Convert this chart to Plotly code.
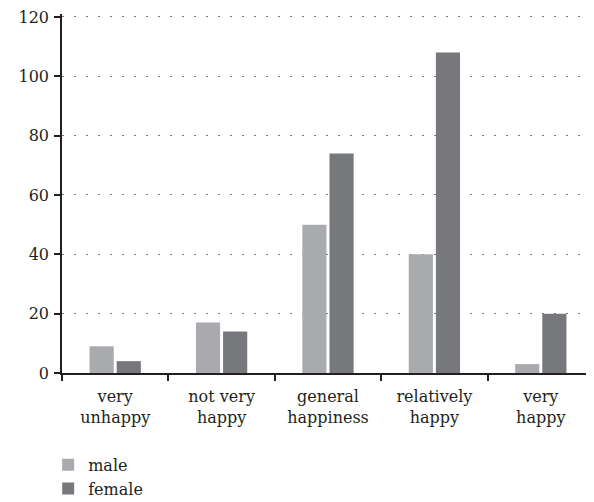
import plotly.graph_objects as go

categories = ["very<br>unhappy", "not very<br>happy", "general<br>happiness", "relatively<br>happy", "very<br>happy"]
male = [9, 17, 50, 40, 3]
female = [4, 14, 74, 108, 20]
y_ticks = [0, 20, 40, 60, 80, 100, 120]

fig = go.Figure()
fig.add_trace(go.Bar(name="male", x=categories, y=male, marker=dict(color="#a9aaad", line=dict(width=0))))
fig.add_trace(go.Bar(name="female", x=categories, y=female, marker=dict(color="#77787c", line=dict(width=0))))

axis_color = "#231f20"
serif = "DejaVu Serif, Liberation Serif, serif"
fig.update_layout(
    width=586, height=494,
    margin=dict(l=54, r=0, t=6, b=129, autoexpand=False),
    paper_bgcolor="white", plot_bgcolor="white",
    font=dict(family=serif, size=16, color=axis_color),
    barmode="group", bargap=0.49, bargroupgap=0.11,
    showlegend=True,
    legend=dict(x=-0.026, y=-0.2085, xanchor="left", yanchor="top", orientation="v",
                font=dict(family=serif, size=16),
                tracegroupgap=0, itemsizing="constant"),
    xaxis=dict(showline=True, linecolor=axis_color, linewidth=1.5, ticks="outside",
               tickson="boundaries", ticklen=6, tickcolor=axis_color, tickwidth=1.5,
               showgrid=False, zeroline=False, automargin=False, ticklabelstandoff=8,
               ticklabeloverflow="allow",
               tickfont=dict(family=serif, size=16)),
    yaxis=dict(range=[0, 121], tickvals=y_ticks, showline=True, linecolor=axis_color, linewidth=1.5,
               ticks="outside", ticklen=6, tickcolor=axis_color, tickwidth=1.5,
               showgrid=True, gridcolor="#777777", gridwidth=1, griddash="2px,10px",
               zeroline=False, automargin=False, ticklabelstandoff=2,
               ticklabeloverflow="allow",
               tickfont=dict(family=serif, size=16)),
)
fig.write_html("out.html")
